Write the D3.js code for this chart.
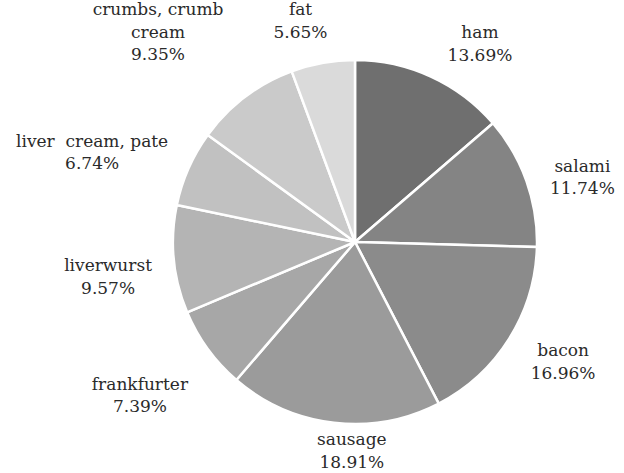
<!DOCTYPE html>
<html>
<head>
<meta charset="utf-8">
<script src="https://cdn.jsdelivr.net/npm/d3@7"></script>
<style>
    body { margin: 0; background: #fff; }
    svg { display: block; }
    .lbl { font-family: "DejaVu Serif", serif; font-size: 17px; }
</style>
</head>
<body>
<svg id="chart" width="624" height="473"></svg>
<script>
// Data
const categories = ["ham", "salami", "bacon", "sausage", "frankfurter", "liverwurst", "liver cream, pate", "crumbs, crumb cream", "fat"];
const shares = [13.69, 11.74, 16.96, 18.91, 7.39, 9.57, 6.74, 9.35, 5.65];
const shades = ["#6f6f6f", "#848484", "#8b8b8b", "#9b9b9b", "#a7a7a7", "#b4b4b4", "#c1c1c1", "#cacaca", "#dadada"];
// label text lines (wrapped like the original)
const labelLines = [["ham"], ["salami"], ["bacon"], ["sausage"], ["frankfurter"], ["liverwurst"], ["liver\u00a0 cream, pate"], ["crumbs, crumb", "cream"], ["fat"]];

const svg = d3.select("#chart");
const cx = 355, cy = 242, radius = 182;

const g = svg.append("g").attr("transform", `translate(${cx},${cy})`);

const pie = d3.pie().sort(null).value(d => d);
const arcs = pie(shares);
const arc = d3.arc().innerRadius(0).outerRadius(radius);

// Slices
g.selectAll("path.slice")
    .data(arcs)
    .enter()
    .append("path")
    .attr("class", "slice")
    .attr("d", arc)
    .attr("fill", (d, i) => shades[i])
    .attr("stroke", "#fff")
    .attr("stroke-width", 2.5)
    .attr("stroke-linejoin", "round");

// Labels: placed on a ring outside the pie, then nudged like the original layout
const labelArc = d3.arc().innerRadius(235).outerRadius(235);
const nudge = [[27, 15], [6, 14], [9, -5], [24, -25], [-25, 15], [-13, 12], [-48, 5], [-55, -23], [-13, 10]];
const lineH = 22.5;

const labels = g.selectAll("text.lbl")
    .data(arcs)
    .enter()
    .append("text")
    .attr("class", "lbl")
    .attr("text-anchor", "middle")
    .attr("fill", "#2a2a2a")
    .each(function (d, i) {
        // centroid on an arc with zero thickness gives a point on the ring
        const [x, y] = labelArc.centroid(d);
        const lines = labelLines[i].concat([shares[i].toFixed(2) + "%"]);
        const top = y + nudge[i][1] - ((lines.length - 1) * lineH) / 2;
        const t = d3.select(this);
        lines.forEach((s, k) => {
            t.append("tspan")
                .attr("x", x + nudge[i][0])
                .attr("y", top + k * lineH)
                .attr("dy", "0.35em")
                .text(s);
        });
    });
</script>
</body>
</html>
